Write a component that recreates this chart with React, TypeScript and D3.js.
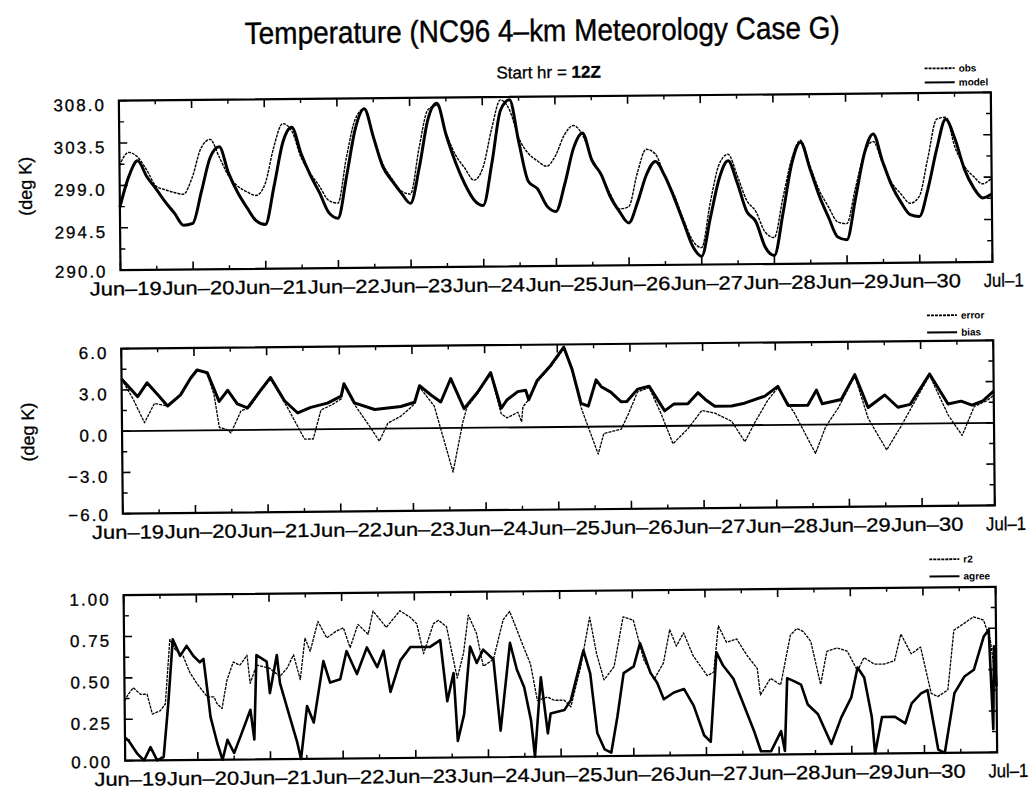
import React from 'react';
import * as d3 from 'd3';

// ---------- data ----------
const dayLabels = ['Jun–19', 'Jun–20', 'Jun–21', 'Jun–22', 'Jun–23', 'Jun–24', 'Jun–25', 'Jun–26', 'Jun–27', 'Jun–28', 'Jun–29', 'Jun–30', 'Jul–1'];

// temperature (deg K), 3-hourly from Jun-19 00Z
const obsTemp = [
  301.1, 302.5, 302.0, 300.6, 298.9, 298.5, 298.2, 298.0,
  299.8, 302.9, 303.8, 301.9, 299.9, 298.8, 298.2, 297.8,
  299.0, 302.9, 305.4, 304.6, 301.8, 300.1, 298.7, 297.2,
  296.9, 301.8, 305.8, 306.9, 303.8, 301.0, 299.4, 298.1,
  297.8, 302.7, 306.7, 307.2, 304.2, 301.9, 300.5, 299.2,
  300.5, 304.6, 307.7, 306.6, 303.6, 302.0, 301.2, 300.6,
  301.7, 303.9, 304.9, 303.9, 301.4, 299.7, 297.6, 296.0,
  296.2, 299.8, 302.3, 301.8, 299.5, 297.5, 294.9, 292.6,
  291.8, 296.6, 300.6, 301.7, 299.4, 296.8, 295.6, 293.4,
  292.8, 297.0, 301.1, 303.1, 300.4, 297.8, 296.0, 294.4,
  294.2, 298.0, 301.6, 302.9, 300.6, 298.5, 297.3, 296.3,
  297.0, 301.1, 305.2, 305.4, 302.2, 300.2, 299.1, 298.3,
  298.9,
];
const modelTemp = [
  296.7, 299.9, 301.6, 299.9, 298.6, 297.2, 296.0, 294.7,
  294.9, 298.3, 301.9, 303.0, 300.2, 298.1, 296.5, 295.1,
  294.7, 298.8, 303.4, 305.0, 302.2, 299.9, 298.0, 295.9,
  295.3, 299.8, 304.8, 306.9, 303.8, 300.7, 299.2, 297.9,
  296.8, 300.6, 305.7, 307.4, 304.0, 301.1, 298.8, 297.1,
  296.5, 301.0, 306.6, 307.7, 303.1, 299.0, 298.2, 296.4,
  295.8, 298.7, 302.5, 304.1, 301.2, 299.7, 297.3, 295.7,
  294.5, 296.7, 299.6, 301.0, 299.5, 297.2, 294.6, 292.0,
  290.9, 295.0, 299.1, 301.0, 298.6, 295.6, 294.5, 291.8,
  290.9, 295.4, 300.6, 302.9, 300.1, 297.2, 294.9, 292.8,
  292.5, 296.9, 301.6, 303.7, 300.8, 298.2, 296.4, 295.1,
  294.9, 297.9, 302.1, 305.2, 303.1, 299.9, 297.9, 296.8,
  297.2,
];

// error / bias (deg K): [day, value]
const errorPts: [number, number][] = [
  [0, 3.8], [0.1, 3.2], [0.22, 2.5], [0.35, 3.5], [0.5, 2.6], [0.63, 1.8], [0.81, 2.6], [0.95, 3.8], [1.04, 4.4],
  [1.18, 4.2], [1.34, 2.1], [1.46, 2.9], [1.59, 1.9], [1.73, 1.6], [1.9, 2.8], [2.05, 3.8], [2.24, 2.1], [2.42, 1.2],
  [2.6, 1.6], [2.83, 1.9], [3.02, 2.4], [3.06, 3.3], [3.2, 1.9], [3.48, 1.4], [3.84, 1.6], [4.03, 1.9], [4.1, 3.1],
  [4.26, 2.4], [4.39, 1.9], [4.53, 3.6], [4.71, 1.4], [4.9, 2.6], [5.08, 4.0], [5.22, 1.4], [5.3, 2.0], [5.45, 2.6],
  [5.56, 2.7], [5.6, 2.0], [5.72, 3.4], [5.91, 4.5], [6.09, 5.8], [6.2, 4.2], [6.32, 1.7], [6.42, 1.5], [6.53, 3.4],
  [6.6, 2.9], [6.73, 2.5], [6.87, 1.8], [6.95, 1.8], [7.1, 2.7], [7.26, 2.9], [7.47, 1.1], [7.6, 1.6], [7.79, 1.6],
  [7.93, 2.4], [8.03, 1.9], [8.16, 1.4], [8.39, 1.4], [8.57, 1.6], [8.85, 2.1], [9.03, 2.8], [9.17, 1.4], [9.44, 1.4],
  [9.56, 2.5], [9.64, 1.5], [9.9, 1.8], [10.09, 3.6], [10.27, 1.2], [10.5, 2.1], [10.68, 1.2], [10.85, 1.4], [11.12, 3.6],
  [11.37, 1.4], [11.55, 1.6], [11.7, 1.3], [11.85, 1.6], [12.0, 2.3],
];
const biasPts: [number, number][] = [
  [0, 3.8], [0.15, 2.4], [0.31, 0.6], [0.45, 2.0], [0.63, 1.8], [0.81, 2.6], [0.95, 3.8], [1.04, 4.4], [1.18, 4.1],
  [1.27, 2.6], [1.34, 0.2], [1.42, 0.1], [1.5, -0.2], [1.64, 1.4], [1.75, 1.6], [1.9, 2.7], [2.05, 3.7], [2.28, 1.6],
  [2.51, -0.7], [2.63, -0.7], [2.74, 1.4], [2.9, 1.8], [3.02, 2.2], [3.06, 3.2], [3.2, 1.8], [3.38, 0.4], [3.54, -0.9],
  [3.66, 0.4], [3.84, 0.9], [3.95, 1.4], [4.03, 1.8], [4.1, 3.0], [4.3, 1.6], [4.55, -3.2], [4.69, 0.4], [4.75, 1.5],
  [4.9, 2.5], [5.08, 3.9], [5.22, 1.0], [5.3, 0.7], [5.45, 1.1], [5.5, 0.4], [5.52, 1.5], [5.6, 2.0], [5.72, 3.3],
  [5.91, 4.4], [6.09, 5.7], [6.2, 4.1], [6.32, 1.4], [6.55, -2.0], [6.63, -0.5], [6.87, -0.2], [6.97, 0.9], [7.1, 2.5],
  [7.26, 2.8], [7.42, 0.9], [7.58, -1.3], [7.79, -0.2], [7.98, 1.1], [8.16, 0.9], [8.39, 0.3], [8.57, -1.2], [8.71, 0.2],
  [8.89, 1.8], [9.03, 2.7], [9.26, 0.8], [9.54, -2.1], [9.68, -0.2], [9.86, 1.2], [10.09, 3.5], [10.27, 0.4], [10.52, -1.9],
  [10.73, -0.1], [10.88, 1.3], [11.12, 3.5], [11.37, 0.6], [11.56, -0.9], [11.73, 1.2], [11.9, 1.6], [12.0, 2.0],
];

// r2 / index of agreement: [day, value]
const r2Pts: [number, number][] = [
  [0, 0.14], [0.05, 0.12], [0.17, 0.04], [0.26, 0.0], [0.35, 0.08], [0.44, 0.0], [0.53, 0.02], [0.6, 0.34], [0.67, 0.73],
  [0.77, 0.63], [0.86, 0.69], [0.95, 0.63], [1.04, 0.59], [1.09, 0.61], [1.14, 0.42], [1.18, 0.26], [1.27, 0.10], [1.34, 0.0],
  [1.41, 0.12], [1.5, 0.04], [1.59, 0.14], [1.73, 0.30], [1.78, 0.12], [1.82, 0.63], [1.96, 0.59], [2.0, 0.40], [2.1, 0.63],
  [2.14, 0.46], [2.28, 0.24], [2.37, 0.10], [2.42, 0.0], [2.51, 0.32], [2.6, 0.22], [2.74, 0.59], [2.83, 0.46], [2.97, 0.48],
  [3.06, 0.65], [3.2, 0.51], [3.34, 0.67], [3.48, 0.55], [3.57, 0.65], [3.66, 0.40], [3.8, 0.59], [3.94, 0.67], [4.08, 0.67],
  [4.21, 0.67], [4.35, 0.71], [4.44, 0.34], [4.53, 0.51], [4.58, 0.10], [4.67, 0.26], [4.76, 0.67], [4.85, 0.57], [4.94, 0.65],
  [5.08, 0.59], [5.17, 0.16], [5.31, 0.69], [5.4, 0.53], [5.5, 0.42], [5.59, 0.22], [5.64, 0.0], [5.73, 0.48], [5.82, 0.14],
  [5.86, 0.26], [6.05, 0.28], [6.14, 0.34], [6.32, 0.64], [6.41, 0.50], [6.5, 0.14], [6.6, 0.04], [6.69, 0.02], [6.78, 0.24],
  [6.87, 0.50], [7.01, 0.54], [7.1, 0.68], [7.24, 0.50], [7.33, 0.44], [7.42, 0.34], [7.56, 0.38], [7.7, 0.40], [7.83, 0.30],
  [7.97, 0.12], [8.06, 0.08], [8.15, 0.62], [8.24, 0.54], [8.38, 0.46], [8.52, 0.30], [8.66, 0.14], [8.75, 0.02], [8.89, 0.02],
  [9.03, 0.14], [9.08, 0.02], [9.12, 0.46], [9.22, 0.44], [9.31, 0.42], [9.4, 0.30], [9.54, 0.24], [9.72, 0.06], [9.86, 0.22],
  [10.0, 0.34], [10.09, 0.52], [10.18, 0.46], [10.28, 0.22], [10.32, 0.0], [10.42, 0.22], [10.6, 0.22], [10.74, 0.18],
  [10.83, 0.30], [10.96, 0.36], [11.05, 0.38], [11.19, 0.02], [11.28, 0.0], [11.42, 0.36], [11.56, 0.46], [11.69, 0.50],
  [11.83, 0.70], [11.9, 0.74], [11.95, 0.14], [11.97, 0.64], [12.0, 0.40],
];
const agreePts: [number, number][] = [
  [0, 0.36], [0.05, 0.40], [0.12, 0.44], [0.22, 0.40], [0.31, 0.40], [0.38, 0.28], [0.49, 0.30], [0.56, 0.34], [0.63, 0.73],
  [0.7, 0.67], [0.81, 0.63], [0.9, 0.53], [1.0, 0.46], [1.14, 0.38], [1.23, 0.38], [1.27, 0.34], [1.34, 0.31], [1.41, 0.48],
  [1.5, 0.59], [1.59, 0.57], [1.69, 0.63], [1.73, 0.46], [1.82, 0.57], [2.0, 0.55], [2.14, 0.50], [2.24, 0.55], [2.33, 0.63],
  [2.42, 0.48], [2.49, 0.73], [2.56, 0.65], [2.67, 0.83], [2.79, 0.73], [2.92, 0.77], [3.02, 0.79], [3.11, 0.67], [3.22, 0.81],
  [3.36, 0.75], [3.43, 0.89], [3.61, 0.79], [3.8, 0.89], [3.94, 0.85], [4.03, 0.81], [4.12, 0.63], [4.26, 0.81], [4.33, 0.83],
  [4.44, 0.79], [4.58, 0.48], [4.67, 0.63], [4.74, 0.86], [4.85, 0.75], [4.94, 0.55], [5.08, 0.59], [5.22, 0.83], [5.31, 0.88],
  [5.5, 0.66], [5.59, 0.56], [5.68, 0.34], [5.82, 0.36], [5.91, 0.34], [6.05, 0.34], [6.14, 0.30], [6.28, 0.54], [6.41, 0.84],
  [6.5, 0.62], [6.6, 0.46], [6.74, 0.54], [6.87, 0.84], [7.01, 0.82], [7.15, 0.58], [7.29, 0.46], [7.42, 0.56], [7.51, 0.76],
  [7.6, 0.66], [7.7, 0.74], [7.83, 0.60], [8.02, 0.48], [8.11, 0.50], [8.18, 0.78], [8.29, 0.68], [8.43, 0.70], [8.57, 0.60],
  [8.71, 0.52], [8.75, 0.36], [8.89, 0.46], [9.03, 0.42], [9.17, 0.72], [9.26, 0.76], [9.35, 0.74], [9.45, 0.68], [9.54, 0.50],
  [9.58, 0.42], [9.67, 0.62], [9.81, 0.64], [9.95, 0.62], [10.09, 0.50], [10.18, 0.58], [10.32, 0.54], [10.46, 0.54],
  [10.6, 0.56], [10.69, 0.72], [10.83, 0.60], [10.96, 0.64], [11.1, 0.36], [11.19, 0.34], [11.33, 0.38], [11.42, 0.74],
  [11.56, 0.78], [11.69, 0.82], [11.83, 0.80], [11.92, 0.68], [11.96, 0.54], [12.0, 0.38],
];

const tempTickValues = [290, 294.5, 299, 303.5, 308];
const tempTickLabels = ['290.0', '294.5', '299.0', '303.5', '308.0'];
const errTickValues = [-6, -3, 0, 3, 6];
const errTickLabels = ['−6.0', '−3.0', '0.0', '3.0', '6.0'];
const statTickValues = [0, 0.25, 0.5, 0.75, 1];
const statTickLabels = ['0.00', '0.25', '0.50', '0.75', '1.00'];

// ---------- layout ----------
const W = 1036;
const H = 793;
const X0 = 122;
const X1 = 994;
const FONT = "'Liberation Sans', Arial, Helvetica, sans-serif";

const x = d3.scaleLinear().domain([0, 12]).range([X0, X1]);

type Series = {
  name: string;
  pts: [number, number][];
  width: number;
  dash?: string;
  curve?: d3.CurveFactory;
};

type PanelProps = {
  top: number;
  bottom: number;
  domain: [number, number];
  tickValues: number[];
  tickLabels: string[];
  series: Series[];
  yTitle?: string;
  zeroLine?: boolean;
  legendY: number;
  legendGap: number;
  xLabelGap: number;
};

function Panel(p: PanelProps) {
  const y = d3.scaleLinear().domain(p.domain).range([p.bottom, p.top]);
  const majorDays = d3.range(0, 13);
  const minorDays = d3.range(0.5, 12, 1);
  const minorY = p.tickValues.slice(0, -1).map((v, i) => (v + p.tickValues[i + 1]) / 2);
  return (
    <g>
      {p.series.map((s) => {
        const line = d3
          .line<[number, number]>()
          .x((d) => x(d[0]))
          .y((d) => y(d[1]))
          .curve(s.curve || d3.curveLinear);
        return (
          <path
            key={s.name}
            d={line(s.pts) || ''}
            fill="none"
            stroke="#000"
            strokeWidth={s.width}
            strokeDasharray={s.dash}
            strokeLinejoin="round"
          />
        );
      })}
      {p.zeroLine && (
        <line x1={X0} x2={X1} y1={y(0)} y2={y(0)} stroke="#000" strokeWidth={1.8} />
      )}
      <rect x={X0} y={p.top} width={X1 - X0} height={p.bottom - p.top} fill="none" stroke="#000" strokeWidth={2.2} />
      {majorDays.map((d) => (
        <g key={'mx' + d}>
          <line x1={x(d)} x2={x(d)} y1={p.bottom} y2={p.bottom - 8} stroke="#000" strokeWidth={1.6} />
          <line x1={x(d)} x2={x(d)} y1={p.top} y2={p.top + 8} stroke="#000" strokeWidth={1.6} />
        </g>
      ))}
      {minorDays.map((d) => (
        <g key={'nx' + d}>
          <line x1={x(d)} x2={x(d)} y1={p.bottom} y2={p.bottom - 4} stroke="#000" strokeWidth={1.4} />
          <line x1={x(d)} x2={x(d)} y1={p.top} y2={p.top + 4} stroke="#000" strokeWidth={1.4} />
        </g>
      ))}
      {p.tickValues.map((v) => (
        <g key={'my' + v}>
          <line x1={X0} x2={X0 + 8} y1={y(v)} y2={y(v)} stroke="#000" strokeWidth={1.6} />
          <line x1={X1} x2={X1 - 8} y1={y(v)} y2={y(v)} stroke="#000" strokeWidth={1.6} />
        </g>
      ))}
      {minorY.map((v) => (
        <g key={'ny' + v}>
          <line x1={X0} x2={X0 + 5} y1={y(v)} y2={y(v)} stroke="#000" strokeWidth={1.4} />
          <line x1={X1} x2={X1 - 5} y1={y(v)} y2={y(v)} stroke="#000" strokeWidth={1.4} />
        </g>
      ))}
      {p.tickValues.map((v, i) => (
        <text
          key={'ly' + v}
          x={X0 - 13}
          y={y(v) + (i === 0 ? 7 : 10)}
          textAnchor="end"
          fontSize={17}
          letterSpacing={2}
          fontFamily={FONT}
          fill="#000"
          stroke="#000"
          strokeWidth={0.3}
        >
          {p.tickLabels[i]}
        </text>
      ))}
      {dayLabels.map((lab, i) => {
        const last = i === dayLabels.length - 1;
        return (
          <text
            key={'lx' + i}
            x={x(i) + (last ? 11 : 5)}
            y={p.bottom + p.xLabelGap}
            textAnchor="middle"
            fontSize={19}
            fontFamily={FONT}
            textLength={last ? 40 : 72}
            lengthAdjust="spacingAndGlyphs"
            fill="#000"
            stroke="#000"
            strokeWidth={0.3}
          >
            {lab}
          </text>
        );
      })}
      {p.yTitle && (
        <text
          transform={`translate(34, ${(p.top + p.bottom) / 2}) rotate(-90)`}
          textAnchor="middle"
          fontSize={18}
          fontFamily={FONT}
          fill="#000"
          stroke="#000"
          strokeWidth={0.3}
        >
          {p.yTitle}
        </text>
      )}
      {p.series.map((s, i) => (
        <g key={'lg' + s.name}>
          <line
            x1={928}
            x2={958}
            y1={p.legendY + i * p.legendGap}
            y2={p.legendY + i * p.legendGap}
            stroke="#000"
            strokeWidth={i === 0 ? 1.8 : 2}
            strokeDasharray={i === 0 ? '3 1' : undefined}
          />
          <text
            x={962}
            y={p.legendY + i * p.legendGap + 3.5}
            fontSize={10}
            fontWeight="bold"
            fontFamily={FONT}
            fill="#000"
          >
            {s.name}
          </text>
        </g>
      ))}
    </g>
  );
}

const tempSeries = (arr: number[]): [number, number][] => arr.map((v, i) => [i / 8, v]);

export default function App() {
  return (
    <svg
      width={W}
      height={H}
      viewBox={`0 0 ${W} ${H}`}
      style={{ position: 'fixed', left: 0, top: 0, background: '#fff' }}
    >
      <rect x={0} y={0} width={W} height={H} fill="#fff" />
      <g transform="rotate(-0.55 558 425)">
        <text x={546} y={41} textAnchor="middle" fontSize={31} fontFamily={FONT} fill="#000" stroke="#000" strokeWidth={0.4} textLength={595} lengthAdjust="spacingAndGlyphs">
          Temperature (NC96 4–km Meteorology Case G)
        </text>
        <text x={552} y={78} textAnchor="middle" fontSize={17} fontFamily={FONT} fill="#000" stroke="#000" strokeWidth={0.3}>
          Start hr = <tspan fontWeight="bold">12Z</tspan>
        </text>
        <Panel
          top={96.5}
          bottom={266}
          domain={[290, 308]}
          tickValues={tempTickValues}
          tickLabels={tempTickLabels}
          yTitle="(deg K)"
          legendY={72}
          legendGap={14}
          xLabelGap={25}
          series={[
            { name: 'obs', pts: tempSeries(obsTemp), width: 1.4, dash: '3 1', curve: d3.curveMonotoneX },
            { name: 'model', pts: tempSeries(modelTemp), width: 3, curve: d3.curveMonotoneX },
          ]}
        />
        <Panel
          top={344.5}
          bottom={509.5}
          domain={[-6, 6]}
          tickValues={errTickValues}
          tickLabels={errTickLabels}
          yTitle="(deg K)"
          zeroLine
          legendY={319}
          legendGap={17}
          xLabelGap={25}
          series={[
            { name: 'error', pts: errorPts, width: 3 },
            { name: 'bias', pts: biasPts, width: 1.3, dash: '3 1' },
          ]}
        />
        <Panel
          top={591}
          bottom={756.5}
          domain={[0, 1]}
          tickValues={statTickValues}
          tickLabels={statTickLabels}
          legendY={563}
          legendGap={17}
          xLabelGap={25}
          series={[
            { name: 'r2', pts: r2Pts, width: 2.6 },
            { name: 'agree', pts: agreePts, width: 1.3, dash: '3 1' },
          ]}
        />
      </g>
    </svg>
  );
}
